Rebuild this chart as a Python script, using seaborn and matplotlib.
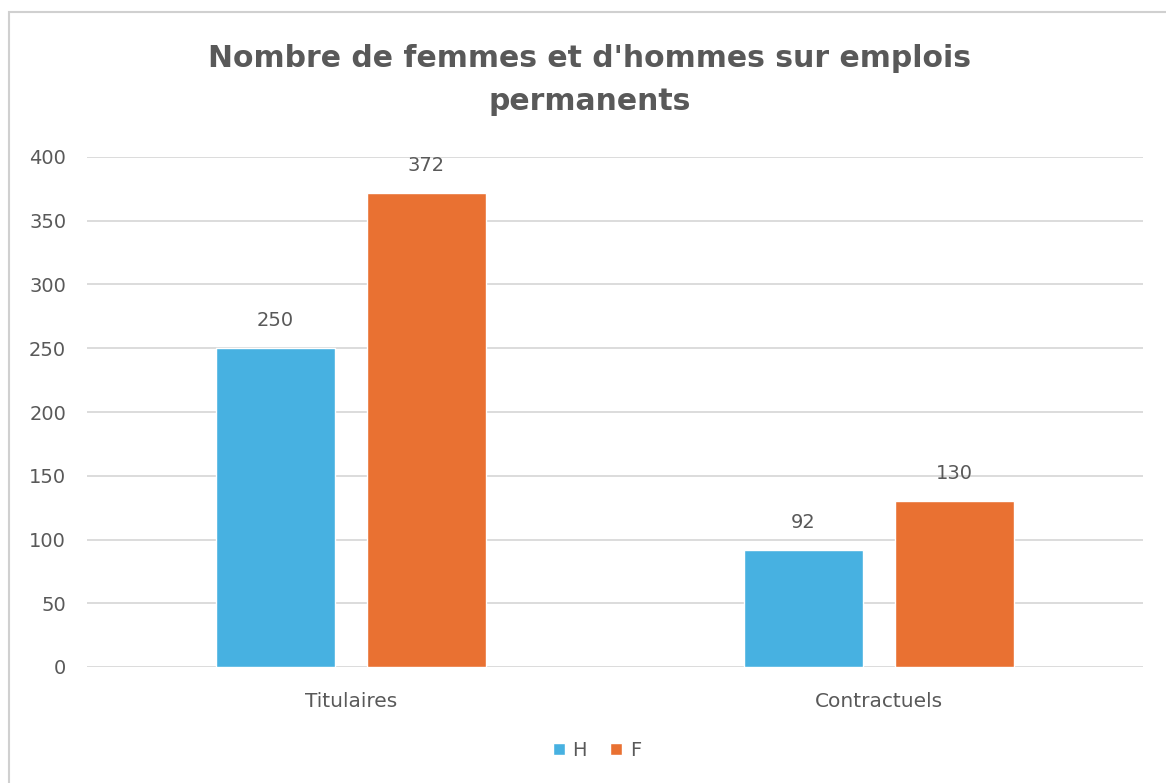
import pandas as pd
import matplotlib.pyplot as plt
import seaborn as sns
from matplotlib.patches import Rectangle

# Données
categories = ['Titulaires', 'Contractuels']
hommes = [250, 92]
femmes = [372, 130]
groupes = ['H', 'F']

df = pd.DataFrame({
    'Statut': categories * 2,
    'Sexe': ['H'] * len(categories) + ['F'] * len(categories),
    'Nombre': hommes + femmes,
})

sns.set_theme(style='white')
plt.rcParams['font.family'] = ['DejaVu Sans']
gris = '#595959'

fig = plt.figure(figsize=(11.66, 7.83), dpi=100)
ax = fig.add_axes([87 / 1166, 1 - 667 / 783, (1143 - 87) / 1166, (667 - 157) / 783])

sns.barplot(data=df, x='Statut', y='Nombre', hue='Sexe', hue_order=groupes,
            palette={'H': '#47B1E1', 'F': '#E97132'}, width=0.572, gap=0.217,
            saturation=1, ax=ax, zorder=3)

# Etiquettes de données
for cont in ax.containers:
    ax.bar_label(cont, padding=13, fontsize=14, color=gris)

ax.set_ylim(0, 400)
ax.set_xlim(-0.5, 1.5)
ax.set_yticks(range(0, 401, 50))
ax.yaxis.grid(True, color='#D9D9D9', linewidth=1.3, zorder=0)
ax.set_axisbelow(True)
for s in ax.spines.values():
    s.set_visible(False)
ax.tick_params(axis='y', colors=gris, labelsize=14, pad=15, length=0)
ax.tick_params(axis='x', colors=gris, labelsize=14.5, pad=18, length=0)
ax.set_xlabel('')
ax.set_ylabel('')

# Légende
ax.legend(loc='upper center', bbox_to_anchor=(0.483, -0.11), ncol=2, frameon=False,
          fontsize=14, labelcolor=gris, handlelength=0.6, handleheight=0.6,
          handletextpad=0.4, columnspacing=1.2)

# Titre
fig.text(0.506, 1 - 80 / 783, "Nombre de femmes et d'hommes sur emplois\npermanents",
         ha='center', va='center', fontsize=21.5, fontweight='bold', color=gris,
         linespacing=1.62)

# Cadre du graphique
fig.patches.append(Rectangle((9 / 1166, -0.05), 1.1, 1 - 12 / 783 + 0.05,
                             transform=fig.transFigure, fill=False,
                             edgecolor='#D0D0D0', linewidth=1.5))

fig.savefig('out.png', dpi=100)
